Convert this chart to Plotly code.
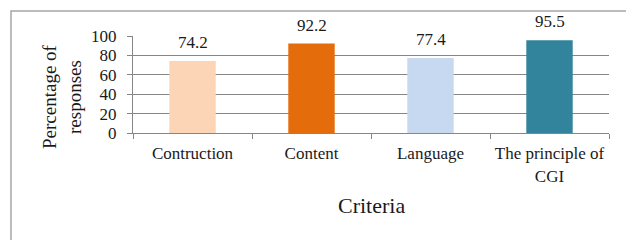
import plotly.graph_objects as go

categories = ["Contruction", "Content", "Language", "The principle of<br>CGI"]
values = [74.2, 92.2, 77.4, 95.5]
colors = ["#FBD5B5", "#E46C0A", "#C6D9F1", "#31849B"]
yticks = [0, 20, 40, 60, 80, 100]

W, H = 626, 240
L, R, T, B = 133, 17, 36, 107
pw, ph = W - L - R, H - T - B

font = "Liberation Serif, Times New Roman, serif"
txt = "#1a1a1a"

fig = go.Figure(go.Bar(
    x=categories, y=values, marker=dict(color=colors, line=dict(width=0)),
    width=0.39, hoverinfo="x+y",
))

for c, v in zip(categories, values):
    fig.add_annotation(x=c, y=v, text=f"{v:.1f}", showarrow=False,
                       xanchor="center", yanchor="bottom", yshift=7,
                       font=dict(family=font, size=17, color=txt))

fig.update_layout(
    width=W, height=H, margin=dict(l=L, r=R, t=T, b=B, autoexpand=False),
    paper_bgcolor="white", plot_bgcolor="white", showlegend=False,
    font=dict(family=font, size=17, color=txt),
    xaxis=dict(showline=True, linecolor="#868686", linewidth=1, ticks="outside",
               tickson="boundaries", ticklen=5, tickcolor="#868686",
               tickfont=dict(size=17, color=txt), showgrid=False, automargin=False,
               ticklabelstandoff=5),
    yaxis=dict(range=[0, 100], tickvals=yticks, showline=True, linecolor="#868686",
               linewidth=1, ticks="outside", ticklen=5, tickcolor="#868686",
               showgrid=True, gridcolor="#868686", gridwidth=1,
               tickfont=dict(size=17, color=txt), zeroline=False, automargin=False,
               ticklabelstandoff=7),
)

def px_x(p):
    return (p - L) / pw

def px_y(p):
    return (H - B - p) / ph

fig.add_shape(type="rect", xref="paper", yref="paper",
              x0=px_x(11), x1=px_x(640), y0=px_y(250), y1=px_y(11),
              line=dict(color="#A6A6A6", width=1.5), fillcolor="rgba(0,0,0,0)", layer="below")

fig.add_annotation(text="Percentage of<br>responses", xref="paper", yref="paper",
                   x=px_x(62), y=px_y(97), textangle=-90, showarrow=False,
                   font=dict(size=19, color=txt), xanchor="center", yanchor="middle")
fig.add_annotation(text="Criteria", xref="paper", yref="paper",
                   x=px_x(371), y=px_y(205), showarrow=False,
                   font=dict(size=22, color=txt), xanchor="center", yanchor="middle")

fig.write_html("out.html", config={"displayModeBar": False},
               post_script="document.body.style.margin='0';document.body.style.overflow='hidden';")
